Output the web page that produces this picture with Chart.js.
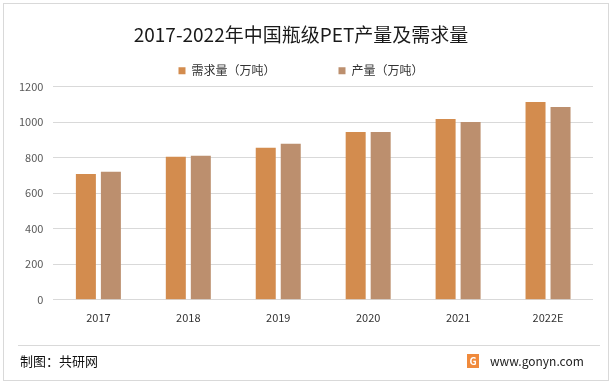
<!DOCTYPE html>
<html>
<head>
<meta charset="utf-8">
<script src="https://cdn.jsdelivr.net/npm/chart.js@4"></script>
<style>
  html, body { margin: 0; padding: 0; background: #fff; }
  #wrap { width: 612px; height: 385px; }
</style>
</head>
<body>
<div id="wrap"><canvas id="chartPet" width="612" height="385"></canvas></div>
<script>
const anos = ['2017', '2018', '2019', '2020', '2021', '2022E'];
const demanda = [709, 806, 857, 946, 1019, 1114];
const producao = [722, 812, 879, 946, 1002, 1086];
const ticksY = [0, 200, 400, 600, 800, 1000, 1200];

const fonte = '"Noto Sans CJK SC", "Noto Sans", sans-serif';

// moldura, linha separadora e rodapé
const rodape = {
    id: 'rodape',
    beforeDraw(chart) {
        const ctx = chart.ctx;
        ctx.save();
        ctx.fillStyle = '#fff';
        ctx.fillRect(0, 0, chart.width, chart.height);
        ctx.strokeStyle = '#d9d9d9';
        ctx.lineWidth = 1;
        ctx.strokeRect(3.5, 3.5, 605, 377);
        ctx.beginPath();
        ctx.moveTo(18, 345.5);
        ctx.lineTo(600, 345.5);
        ctx.stroke();
        ctx.restore();
    },
    afterDraw(chart) {
        const ctx = chart.ctx;
        ctx.save();
        ctx.textBaseline = 'middle';
        ctx.fillStyle = '#111';
        ctx.font = '13px ' + fonte;
        ctx.fillText('制图：共研网', 20, 361);
        ctx.fillStyle = '#f08a3c';
        ctx.fillRect(467, 354, 12, 14);
        ctx.fillStyle = '#fff';
        ctx.font = 'bold 10px ' + fonte;
        ctx.fillText('G', 469.5, 361);
        ctx.fillStyle = '#222';
        ctx.font = '12px ' + fonte;
        ctx.fillText('www.gonyn.com', 490, 361);
        ctx.restore();
    }
};

new Chart(document.getElementById('chartPet'), {
    type: 'bar',
    data: {
        labels: anos,
        datasets: [{
            label: '需求量（万吨）',
            data: demanda,
            backgroundColor: '#d38c4e',
            borderWidth: 0,
        }, {
            label: '产量（万吨）',
            data: producao,
            backgroundColor: '#bc8f6e',
            borderWidth: 0,
        }],
    },
    options: {
        responsive: false,
        animation: false,
        devicePixelRatio: 1,
        categoryPercentage: 0.556,
        barPercentage: 0.8,
        layout: { padding: { left: 9, right: 19, top: 0, bottom: 50 } },
        plugins: {
            title: {
                display: true,
                text: '2017-2022年中国瓶级PET产量及需求量',
                color: '#1a1a1a',
                font: { family: fonte, size: 19, weight: 'normal', lineHeight: 1.2 },
                padding: { top: 23, bottom: -44 },
            },
            legend: {
                display: true,
                labels: {
                    boxWidth: 7,
                    boxHeight: 7,
                    padding: 63,
                    color: '#333',
                    font: { family: fonte, size: 12 },
                },
            },
            tooltip: { enabled: false },
        },
        scales: {
            x: {
                grid: { display: false, drawTicks: false },
                border: { display: false },
                ticks: { color: '#333', padding: 11, font: { family: fonte, size: 11 } },
            },
            y: {
                min: 0,
                max: 1200,
                afterBuildTicks(axis) {
                    axis.ticks = ticksY.map(v => ({ value: v }));
                },
                grid: { color: '#d9d9d9', drawTicks: false },
                border: { display: false },
                ticks: {
                    color: '#595959',
                    padding: 10,
                    font: { family: fonte, size: 11 },
                    callback: v => String(v),
                },
            },
        },
    },
    plugins: [rodape],
});
</script>
</body>
</html>
